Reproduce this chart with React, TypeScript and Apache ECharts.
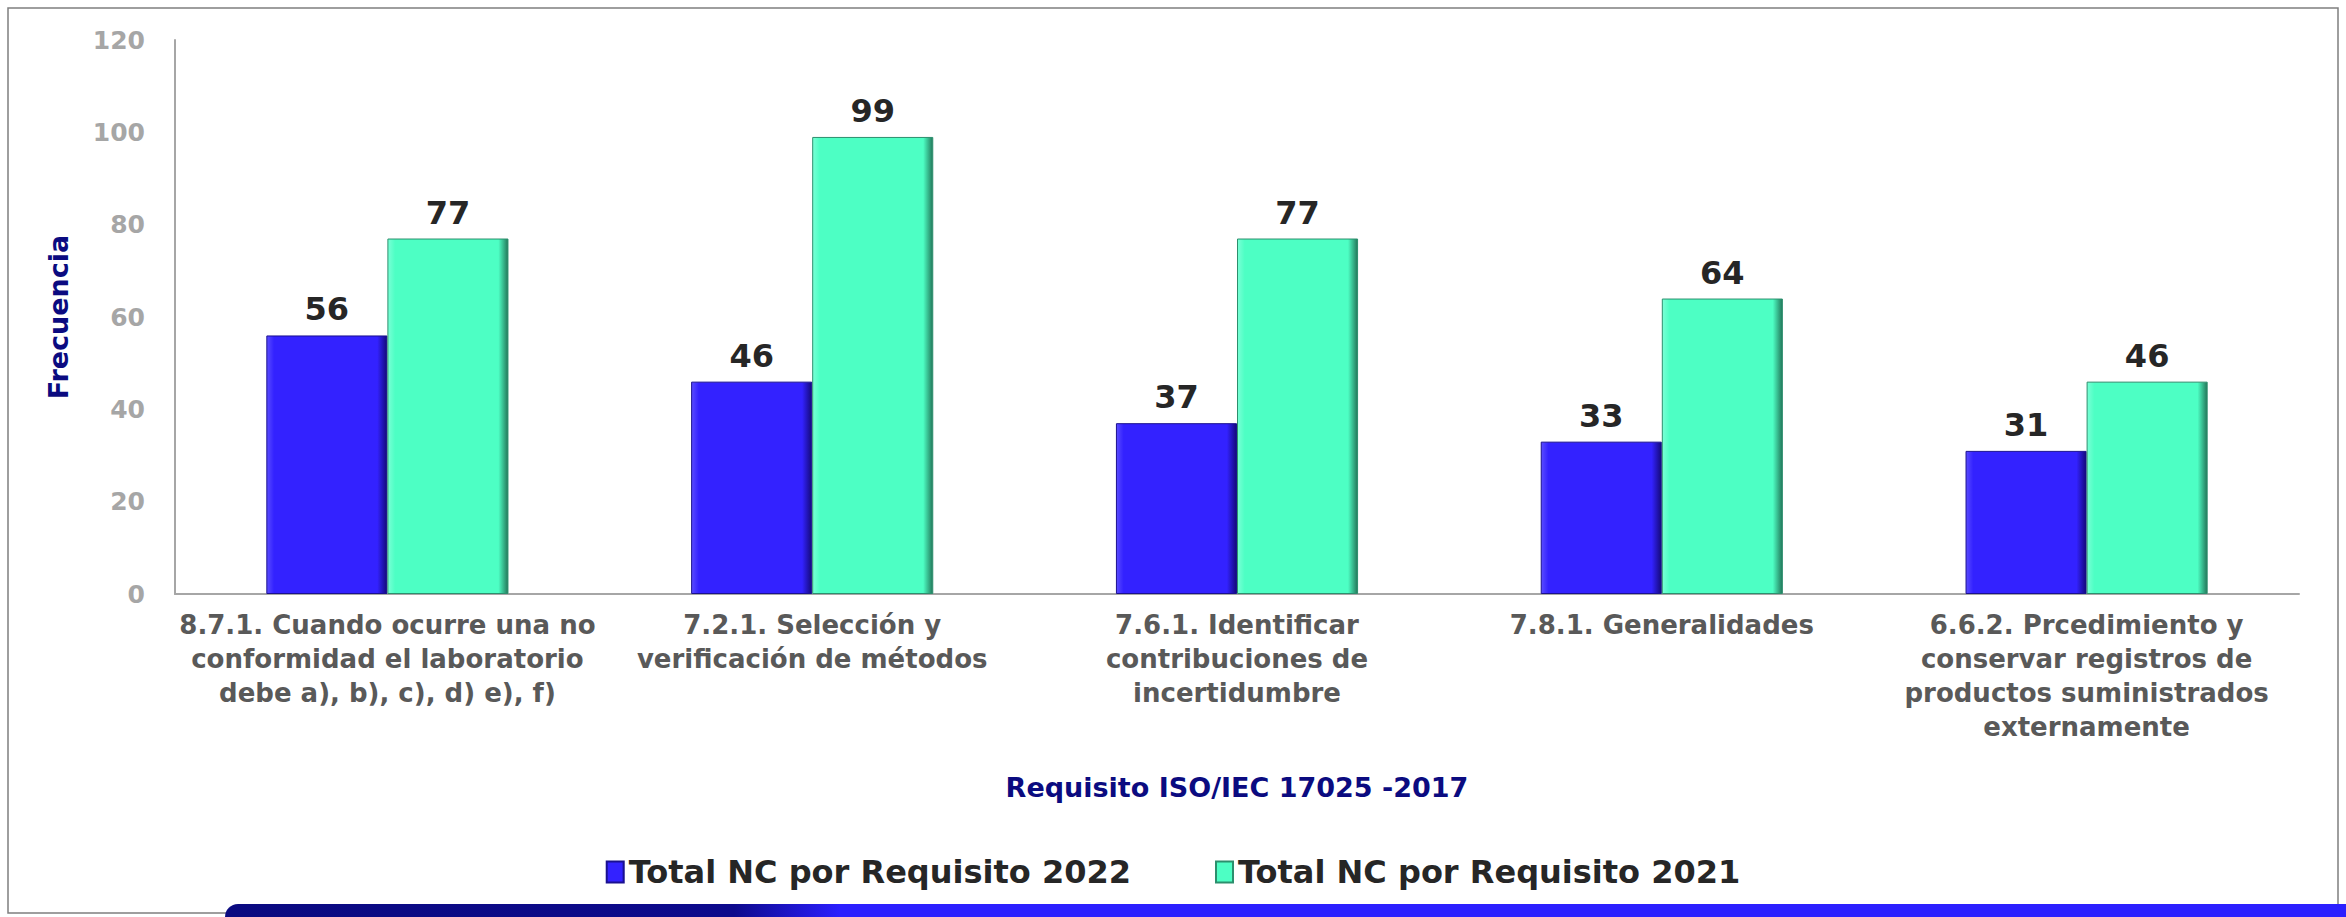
import React, { useEffect, useRef } from "react";
import * as echarts from "echarts";

const categories = [
  "8.7.1. Cuando ocurre una no\nconformidad el laboratorio\ndebe a), b), c), d) e), f)",
  "7.2.1. Selección y\nverificación de métodos",
  "7.6.1. Identificar\ncontribuciones de\nincertidumbre",
  "7.8.1. Generalidades",
  "6.6.2. Prcedimiento y\nconservar registros de\nproductos suministrados\nexternamente",
];
const series2022 = [56, 46, 37, 33, 31];
const series2021 = [77, 99, 77, 64, 46];
const seriesNames = ["Total NC por Requisito 2022", "Total NC por Requisito 2021"];
const yAxisName = "Frecuencia";
const xAxisName = "Requisito ISO/IEC 17025 -2017";

const FONT = "'DejaVu Sans', 'Open Sans', sans-serif";

function barGradient(light: string, main: string, dark: string) {
  return new echarts.graphic.LinearGradient(0, 0, 1, 0, [
    { offset: 0, color: light },
    { offset: 0.06, color: main },
    { offset: 0.92, color: main },
    { offset: 1, color: dark },
  ]);
}

export default function App() {
  const ref = useRef<HTMLDivElement>(null);
  useEffect(() => {
    if (!ref.current) return;
    const chart = echarts.init(ref.current, null, { renderer: "svg" });
    const labelStyle = {
      show: true,
      position: "top" as const,
      distance: 10,
      color: "#262626",
      fontSize: 32,
      fontWeight: "bold" as const,
      fontFamily: FONT,
    };
    chart.setOption({
      animation: false,
      backgroundColor: "#ffffff",
      grid: { left: 175, right: 47, top: 40, bottom: 323, containLabel: false },
      legend: {
        top: 851,
        left: "center",
        itemWidth: 17,
        itemHeight: 21,
        itemGap: 84,
        icon: "rect",
        textStyle: { fontSize: 32, fontWeight: "bold", color: "#262626", fontFamily: FONT },
        data: seriesNames,
      },
      xAxis: {
        type: "category",
        data: categories,
        name: xAxisName,
        nameLocation: "middle",
        nameGap: 180,
        nameTextStyle: { color: "#0b0b80", fontSize: 27, fontWeight: "bold", fontFamily: FONT },
        axisLine: { show: true, lineStyle: { color: "#a6a6a6", width: 2 } },
        axisTick: { show: false },
        axisLabel: {
          interval: 0,
          margin: 14,
          color: "#595959",
          fontSize: 26,
          lineHeight: 34,
          fontWeight: "bold",
          fontFamily: FONT,
        },
      },
      yAxis: {
        type: "value",
        min: 0,
        max: 120,
        interval: 20,
        name: yAxisName,
        nameLocation: "middle",
        nameGap: 103,
        nameTextStyle: { color: "#0b0b80", fontSize: 27, fontWeight: "bold", fontFamily: FONT },
        axisLine: { show: true, lineStyle: { color: "#a6a6a6", width: 2 } },
        axisTick: { show: false },
        splitLine: { show: false },
        axisLabel: {
          margin: 30,
          color: "#a6a6a6",
          fontSize: 25,
          fontWeight: "bold",
          fontFamily: FONT,
        },
      },
      series: [
        {
          name: seriesNames[0],
          type: "bar",
          data: series2022,
          barGap: "0%",
          barCategoryGap: "43%",
          itemStyle: {
            color: barGradient("#5a4cff", "#3322ff", "#14097a"),
            borderColor: "#1a1090",
            borderWidth: 1,
          },
          label: labelStyle,
        },
        {
          name: seriesNames[1],
          type: "bar",
          data: series2021,
          barGap: "0%",
          barCategoryGap: "43%",
          itemStyle: {
            color: barGradient("#7affd6", "#4dffc4", "#23775a"),
            borderColor: "#2c8f6d",
            borderWidth: 1,
          },
          label: labelStyle,
        },
      ],
      graphic: [
        {
          type: "rect",
          shape: { x: 8, y: 8, width: 2330, height: 905 },
          style: { fill: "none", stroke: "#7f7f7f", lineWidth: 1.5 },
          silent: true,
        },
        {
          type: "rect",
          shape: { x: 225, y: 904, width: 2121, height: 13, r: [14, 0, 0, 0] },
          style: {
            fill: new echarts.graphic.LinearGradient(0, 0, 1, 0, [
              { offset: 0, color: "#0a0a80" },
              { offset: 0.24, color: "#0d0a8c" },
              { offset: 0.29, color: "#2b1fff" },
              { offset: 1, color: "#2b1fff" },
            ]),
          },
          silent: true,
        },
      ],
    });
    return () => chart.dispose();
  }, []);
  return (
    <div
      ref={ref}
      style={{ position: "fixed", left: 0, top: 0, width: 2346, height: 917, background: "#fff" }}
    />
  );
}
